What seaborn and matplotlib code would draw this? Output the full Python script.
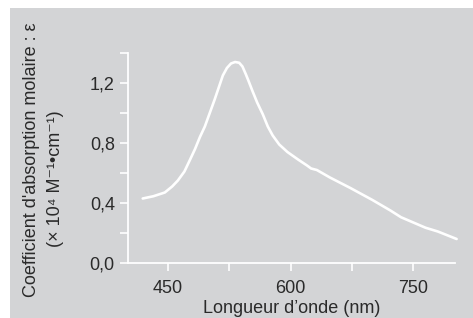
import matplotlib
matplotlib.use("Agg")
import matplotlib.pyplot as plt
import seaborn as sns
import pandas as pd
from matplotlib.patches import Rectangle

wavelength = [419, 432, 446, 455, 462, 470, 477, 483, 489, 495, 501, 507, 512, 517, 522, 527,
              532, 537, 541, 545, 548, 553, 559, 566, 572, 578, 586, 596, 609, 620, 625, 632,
              648, 673, 700, 722, 735, 750, 765, 780, 803]
epsilon = [0.43, 0.445, 0.47, 0.51, 0.55, 0.61, 0.69, 0.76, 0.84, 0.91, 1.00, 1.09, 1.17, 1.25, 1.30, 1.33,
           1.34, 1.335, 1.31, 1.26, 1.22, 1.15, 1.07, 0.99, 0.91, 0.85, 0.79, 0.74, 0.69, 0.65, 0.63, 0.62,
           0.57, 0.50, 0.42, 0.35, 0.305, 0.27, 0.235, 0.21, 0.16]

x_major = [450, 600, 750]
x_major_labels = ["450", "600", "750"]
x_minor = [525, 675]
y_major = [0.0, 0.4, 0.8, 1.2]
y_major_labels = ["0,0", "0,4", "0,8", "1,2"]
y_minor = [0.2, 0.6, 1.0, 1.4]

df = pd.DataFrame({"wl": wavelength, "eps": epsilon})

sns.set_theme(style="white")
plt.rcParams['font.family'] = ['Liberation Sans', 'DejaVu Sans']

bg = "#d3d4d6"
txt = "#2a2a2a"
fig = plt.figure(figsize=(4.73, 3.18), dpi=100)
fig.patch.set_facecolor("white")
fig.patches.append(Rectangle((10/473, 0), 1 - 10/473, 1 - 8/318, transform=fig.transFigure,
                             facecolor=bg, edgecolor="none", zorder=-10))

ax = fig.add_axes([128/473, 55/318, (455-128)/473, (263-53)/318])
ax.set_zorder(5)
ax.set_facecolor("none")
sns.lineplot(data=df, x="wl", y="eps", ax=ax, color="white", linewidth=1.9,
             estimator=None, sort=False, clip_on=False)
for l in ax.lines:
    l.set_solid_joinstyle("round")
    l.set_solid_capstyle("round")

ax.set_xlim(401, 801)
ax.set_ylim(0, 1.4)
ax.set_xticks(x_major)
ax.set_xticklabels(x_major_labels)
ax.set_xticks(x_minor, minor=True)
ax.set_yticks(y_major)
ax.set_yticklabels(y_major_labels)
ax.set_yticks(y_minor, minor=True)

for s in ["top", "right"]:
    ax.spines[s].set_visible(False)
for s in ["left", "bottom"]:
    ax.spines[s].set_color("white")
    ax.spines[s].set_linewidth(1.3)

ax.tick_params(axis="both", which="both", direction="out", length=5.5, width=1.2,
               color="white", labelcolor=txt, labelsize=13)
ax.tick_params(axis="x", which="major", pad=7)
ax.tick_params(axis="y", which="major", pad=4)
ax.tick_params(which="both", bottom=True, left=True)

ax.set_xlabel("Longueur d\u2019onde (nm)", fontsize=13, color=txt, labelpad=2)
ax.set_ylabel("")

fig.text(31/473, 1 - 160/318, "Coefficient d'absorption molaire : \u03b5", rotation=90,
         ha="center", va="center", fontsize=13, color=txt)
fig.text(56/473, 1 - 179/318, "(\u00d7 10\u2074 M\u207b\u00b9\u2022cm\u207b\u00b9)", rotation=90,
         ha="center", va="center", fontsize=13, color=txt)

fig.savefig("out.png", dpi=100, facecolor=fig.get_facecolor())
